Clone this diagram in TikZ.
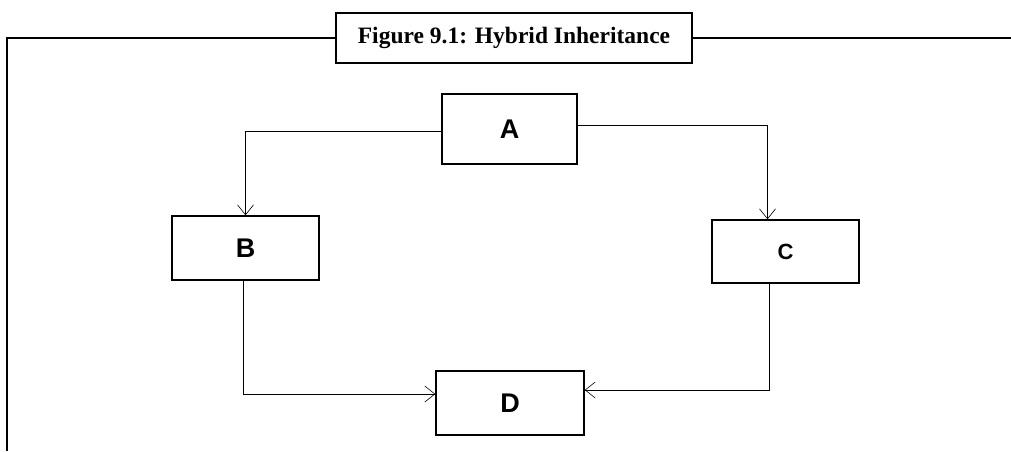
\documentclass[tikz,border=0pt]{standalone}
\usepackage{fontspec}
\setmainfont{Liberation Serif}
\newfontfamily\boxfont{Liberation Sans}
\usetikzlibrary{arrows.meta}
\tikzset{
frame/.style={line width=2.5pt},
caption/.style={
  draw,
  line width=2.5pt,
  fill=white,
  minimum width=356pt,
  minimum height=50pt,
  inner sep=0pt,
  font=\fontsize{23.5}{26}\selectfont\bfseries
},
class/.style={
  draw,
  line width=1.4pt,
  rectangle,
  inner sep=0pt,
  minimum width=147pt,
  minimum height=64pt,
  font=\boxfont\fontsize{27}{30}\selectfont\bfseries
},
link/.style={
  line width=0.9pt,
  -{Straight Barb[length=10pt,width=16pt,line width=0.6pt]}
}
}
\begin{document}
\begin{tikzpicture}[x=1pt,y=-1pt]
\useasboundingbox (0,0) rectangle (1011,451);
% the caption and the frame
\node (title) [caption] at (514,38) {Figure 9.1: Hybrid Inheritance};
\coordinate (corner) at (7,38);
\coordinate (foot) at (7,451);
\coordinate (edge) at (1011,38);
\draw[frame] (title.west) -- (corner) -- (foot);
\draw[frame] (title.east) -- (edge);
% the classes
\node (A) [class,minimum width=135pt,minimum height=70pt] at (509.5,129) {A};
\node (B) [class] at (245.5,248) {B};
\node (C) [class,minimum height=63pt,font=\boxfont\fontsize{22}{24}\selectfont\bfseries] at (785.5,251.5) {C};
\node (D) [class,minimum width=148pt] at (510,403) {D};
% the links
\draw[link] ([yshift=-2pt]A.west) -| (B.north);
\draw[link] ([yshift=3.5pt]A.east) -| ([xshift=-18pt]C.north);
\draw[link] ([xshift=-2pt]B.south) |- ([yshift=9pt]D.west);
\draw[link] ([xshift=-16.5pt]C.south) |- ([yshift=13pt]D.east);
\end{tikzpicture}
\end{document}
